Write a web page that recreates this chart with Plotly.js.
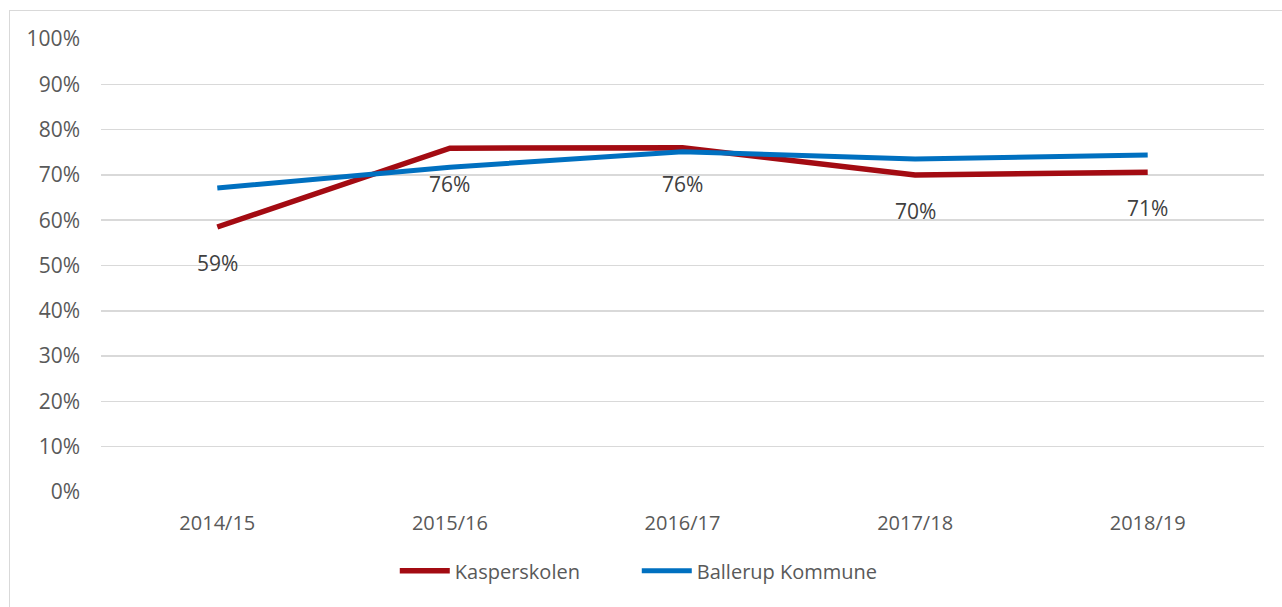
<!DOCTYPE html>
<html>
<head>
<meta charset="utf-8">
<script src="https://cdn.plot.ly/plotly-3.0.1.min.js"></script>
<style>
  html, body { margin: 0; padding: 0; background: #ffffff; }
  #wrap { position: relative; width: 1282px; height: 607px; overflow: hidden; }
  #chart { width: 1282px; height: 607px; }
  #frame { position: absolute; left: 9px; top: 10px; width: 1300px; height: 620px;
           border: 1.5px solid #d9d9d9; pointer-events: none; box-sizing: border-box; }
</style>
</head>
<body>
<div id="wrap">
  <div id="chart"></div>
  <div id="frame"></div>
</div>
<script>
const categories = ["2014/15", "2015/16", "2016/17", "2017/18", "2018/19"];
const kasperskolen = [0.585, 0.759, 0.760, 0.700, 0.706];
const ballerup = [0.671, 0.717, 0.751, 0.735, 0.744];
const kasperLabels = ["59%", "76%", "76%", "70%", "71%"];
const yTickVals = [0, 0.1, 0.2, 0.3, 0.4, 0.5, 0.6, 0.7, 0.8, 0.9, 1.0];
const yTickText = ["0%", "10%", "20%", "30%", "40%", "50%", "60%", "70%", "80%", "90%", "100%"];

const fontFam = "'Open Sans', 'Noto Sans', sans-serif";

const traces = [
  {
    x: categories, y: kasperskolen, name: "Kasperskolen", type: "scatter", mode: "lines",
    line: { color: "#A30B12", width: 5.5 }, hoverinfo: "skip"
  },
  {
    x: categories, y: ballerup, name: "Ballerup Kommune", type: "scatter", mode: "lines",
    line: { color: "#0070C0", width: 5 }, hoverinfo: "skip"
  }
];

const annotations = categories.map((c, i) => ({
  x: c, y: kasperskolen[i], xref: "x", yref: "y", text: kasperLabels[i],
  showarrow: false, yshift: -36, font: { family: fontFam, size: 21, color: "#404040" }
}));

const layout = {
  width: 1282, height: 607,
  margin: { l: 101, r: 18, t: 39, b: 115 },
  paper_bgcolor: "#ffffff", plot_bgcolor: "#ffffff",
  font: { family: fontFam, size: 20, color: "#595959" },
  showlegend: true,
  legend: {
    orientation: "h", x: 0.2526, xanchor: "left", y: -0.174, yanchor: "middle",
    font: { family: fontFam, size: 20, color: "#595959" }, itemwidth: 50,
    entrywidth: 177, traceorder: "normal"
  },
  xaxis: {
    type: "category", range: [-0.5, 4.5], showgrid: false, zeroline: false, showline: false,
    ticks: "", tickfont: { family: fontFam, size: 20, color: "#595959" },
    ticklabelstandoff: 17
  },
  yaxis: {
    range: [0, 1], tickvals: yTickVals, ticktext: yTickText,
    showgrid: true, gridcolor: "#d9d9d9", gridwidth: 1.5, zeroline: false, showline: false,
    ticks: "", tickfont: { family: fontFam, size: 21, color: "#595959" },
    ticklabelstandoff: 20, fixedrange: true
  },
  annotations: annotations
};

Plotly.newPlot("chart", traces, layout, { displayModeBar: false, staticPlot: true });
</script>
</body>
</html>
